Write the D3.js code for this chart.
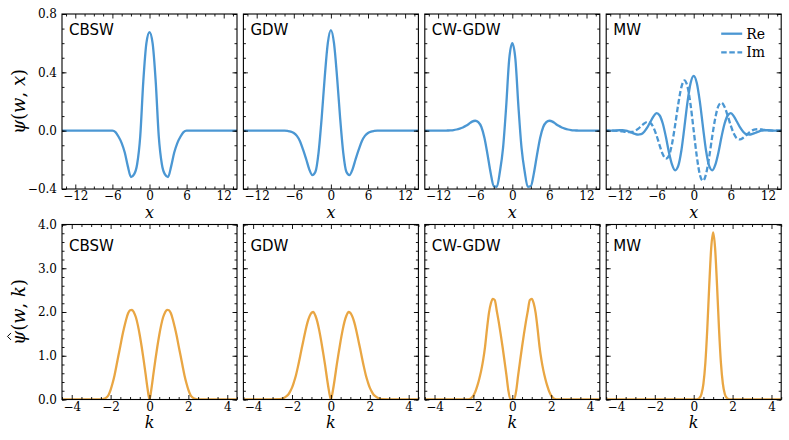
<!DOCTYPE html>
<html>
<head>
<meta charset="utf-8">
<script src="https://cdn.jsdelivr.net/npm/d3@7"></script>
<style>
  body { margin: 0; background: #fff; }
</style>
</head>
<body>
<svg id="chart" width="789" height="440"></svg>
<script>
const panelNames = ["CBSW", "GDW", "CW-GDW", "MW"];

// top row: wavelets in x
const xGrid = [-14.5, -13, -12, -11.5, -11, -10.5, -10, -9.5, -9, -8.5, -8, -7.5, -7, -6.5, -6, -5.5, -5, -4.5, -4, -3.5, -3, -2.5, -2, -1.5, -1, -0.5, 0,
    0.5, 1, 1.5, 2, 2.5, 3, 3.5, 4, 4.5, 5, 5.5, 6, 6.5, 7, 7.5, 8, 8.5, 9, 9.5, 10, 10.5, 11, 11.5, 12, 13, 14.5];
const cbswX = [0, 0, 0, 0, 0, 0, 0, 0, 0, 0, 0, 0, 0, 0, 0, -0.01, -0.042, -0.085, -0.15, -0.245, -0.318, -0.30, -0.23, -0.04, 0.34, 0.60, 0.675,
    0.60, 0.34, -0.04, -0.23, -0.30, -0.318, -0.245, -0.15, -0.085, -0.042, -0.01, 0, 0, 0, 0, 0, 0, 0, 0, 0, 0, 0, 0, 0, 0, 0];
const gdwX = [0, 0, 0, 0, 0, 0, 0, 0, 0, 0, 0, 0, -0.002, -0.006, -0.016, -0.036, -0.072, -0.13, -0.195, -0.265, -0.305, -0.282, -0.152, 0.083, 0.366, 0.60, 0.69,
    0.60, 0.366, 0.083, -0.152, -0.282, -0.305, -0.265, -0.195, -0.13, -0.072, -0.036, -0.016, -0.006, -0.002, 0, 0, 0, 0, 0, 0, 0, 0, 0, 0, 0, 0];
const cwgdwX = [0, 0, 0, 0, 0, 0.001, 0.002, 0.004, 0.008, 0.014, 0.022, 0.033, 0.047, 0.062, 0.068, 0.058, 0.025, -0.05, -0.165, -0.29, -0.38, -0.385, -0.28, -0.12, 0.16, 0.49, 0.60,
    0.49, 0.16, -0.12, -0.28, -0.385, -0.38, -0.29, -0.165, -0.05, 0.025, 0.058, 0.068, 0.062, 0.047, 0.033, 0.022, 0.014, 0.008, 0.004, 0.002, 0.001, 0, 0, 0, 0, 0];
const mwReX = [0, 0, 0.003, 0.003, 0, -0.006, -0.014, -0.022, -0.027, -0.024, -0.007, 0.022, 0.061, 0.098, 0.12, 0.104, 0.049, -0.042, -0.149, -0.233, -0.272, -0.242, -0.138, 0.025, 0.197, 0.327, 0.376,
    0.327, 0.197, 0.025, -0.138, -0.242, -0.272, -0.233, -0.149, -0.042, 0.049, 0.104, 0.12, 0.098, 0.061, 0.022, -0.007, -0.024, -0.027, -0.022, -0.014, -0.006, 0, 0.003, 0.003, 0, 0];
const mwImX = [0, 0, -0.002, -0.005, -0.008, -0.010, -0.009, -0.002, 0.012, 0.031, 0.049, 0.06, 0.053, 0.021, -0.034, -0.102, -0.162, -0.192, -0.17, -0.089, 0.039, 0.182, 0.297, 0.344, 0.302, 0.176, 0,
    -0.176, -0.302, -0.344, -0.297, -0.182, -0.039, 0.089, 0.17, 0.192, 0.162, 0.102, 0.034, -0.021, -0.053, -0.06, -0.049, -0.031, -0.012, 0.002, 0.009, 0.010, 0.008, 0.005, 0.002, 0, 0];

// bottom row: spectra in k
const kGrid = [-4.6, -2.6, -2.5, -2.4, -2.3, -2.2, -2.1, -2, -1.9, -1.8, -1.7, -1.6, -1.5, -1.4, -1.3, -1.2, -1.1, -1, -0.9, -0.8, -0.7, -0.6, -0.5, -0.4, -0.3, -0.2, -0.1, 0,
    0.1, 0.2, 0.3, 0.4, 0.5, 0.6, 0.7, 0.8, 0.9, 1, 1.1, 1.2, 1.3, 1.4, 1.5, 1.6, 1.7, 1.8, 1.9, 2, 2.1, 2.2, 2.3, 2.4, 2.5, 2.6, 4.6];
const cbswK = [0, 0, 0, 0.01, 0.02, 0.05, 0.11, 0.22, 0.37, 0.55, 0.77, 1.0, 1.22, 1.45, 1.65, 1.83, 1.97, 2.04, 2.05, 1.99, 1.88, 1.7, 1.47, 1.2, 0.9, 0.58, 0.25, 0,
    0.25, 0.58, 0.9, 1.2, 1.47, 1.7, 1.88, 1.99, 2.05, 2.04, 1.97, 1.83, 1.65, 1.45, 1.22, 1.0, 0.77, 0.55, 0.37, 0.22, 0.11, 0.05, 0.02, 0.01, 0, 0, 0];
const gdwK = [0, 0.01, 0.02, 0.04, 0.07, 0.11, 0.18, 0.27, 0.40, 0.55, 0.74, 0.95, 1.17, 1.38, 1.59, 1.77, 1.9, 1.98, 2.0, 1.92, 1.78, 1.58, 1.34, 1.07, 0.79, 0.48, 0.2, 0,
    0.2, 0.48, 0.79, 1.07, 1.34, 1.58, 1.78, 1.92, 2.0, 1.98, 1.9, 1.77, 1.59, 1.38, 1.17, 0.95, 0.74, 0.55, 0.40, 0.27, 0.18, 0.11, 0.07, 0.04, 0.02, 0.01, 0];
const cwgdwK = [0, 0, 0, 0, 0, 0.01, 0.04, 0.09, 0.18, 0.31, 0.47, 0.66, 0.9, 1.21, 1.62, 1.98, 2.2, 2.30, 2.27, 2.03, 1.78, 1.5, 1.2, 0.88, 0.55, 0.2, 0.01, 0,
    0.01, 0.2, 0.55, 0.88, 1.2, 1.5, 1.78, 2.03, 2.27, 2.30, 2.2, 1.98, 1.62, 1.21, 0.9, 0.66, 0.47, 0.31, 0.18, 0.09, 0.04, 0.01, 0, 0, 0, 0, 0];
const mwK = [0, 0, 0, 0, 0, 0, 0, 0, 0, 0, 0, 0, 0, 0, 0, 0, 0, 0, 0, 0, 0, 0, 0, 0, 0, 0, 0, 0,
    0.002, 0.009, 0.037, 0.127, 0.36, 0.84, 1.63, 2.61, 3.46, 3.82, 3.46, 2.61, 1.63, 0.84, 0.36, 0.127, 0.037, 0.009, 0.002, 0, 0, 0, 0, 0, 0, 0, 0];

const xTicks = [-12, -6, 0, 6, 12],
    kTicks = [-4, -2, 0, 2, 4],
    psiTicks = [-0.4, 0.0, 0.4, 0.8],
    specTicks = [0, 1, 2, 3, 4];

const topSeries = [[cbswX], [gdwX], [cwgdwX], [mwReX, mwImX]];
const botSeries = [cbswK, gdwK, cwgdwK, mwK];

const BLUE = "#4b97d3", ORANGE = "#e9a643",
    SERIF = '"DejaVu Serif", "Liberation Serif", "Noto Serif", "Times New Roman", serif',
    SANS = '"DejaVu Sans", sans-serif';

const svg = d3.select("#chart"),
    left0 = 62, pw = 175, gap = 6.4, ph = 175,
    rowTop = [14, 224.5];

const x = d3.scaleLinear().domain([-14.15, 14.15]).range([0, pw]),
    k = d3.scaleLinear().domain([-4.5, 4.5]).range([0, pw]),
    yTop = d3.scaleLinear().domain([-0.4, 0.8]).range([ph, 0]),
    yBot = d3.scaleLinear().domain([0, 4]).range([ph, 0]);

function styleAxis(a) {
    a.select(".domain").remove();
    a.selectAll("line").attr("stroke", "#000").attr("stroke-width", 0.9);
    a.attr("font-family", null).attr("font-size", null)
        .style("font-family", SERIF).style("font-size", "12px");
    a.selectAll("text").attr("fill", "#000");
}

function frameAxes(g, xs, ys, xMaj, xMin, yMaj, yMin, showY, yFmt) {
    const sets = [
        [d3.axisBottom(xs).tickValues(xMaj).tickSize(-4.5).tickPadding(2.5).tickFormat(d3.format("d")), `translate(0,${ph})`],
        [d3.axisBottom(xs).tickValues(xMin).tickSize(-2.5).tickFormat(""), `translate(0,${ph})`],
        [d3.axisTop(xs).tickValues(xMaj).tickSize(-4.5).tickFormat(""), null],
        [d3.axisTop(xs).tickValues(xMin).tickSize(-2.5).tickFormat(""), null],
        [d3.axisLeft(ys).tickValues(yMaj).tickSize(-4.5).tickPadding(5).tickFormat(showY ? yFmt : ""), null],
        [d3.axisLeft(ys).tickValues(yMin).tickSize(-2.5).tickFormat(""), null],
        [d3.axisRight(ys).tickValues(yMaj).tickSize(-4.5).tickFormat(""), `translate(${pw},0)`],
        [d3.axisRight(ys).tickValues(yMin).tickSize(-2.5).tickFormat(""), `translate(${pw},0)`]
    ];
    for(const [ax, tr] of sets) {
        const a = g.append("g");
        if(tr) a.attr("transform", tr);
        a.call(ax);
        styleAxis(a);
    }
    g.append("rect")
        .attr("width", pw).attr("height", ph)
        .attr("fill", "none").attr("stroke", "#000").attr("stroke-width", 1.1);
}

const defs = svg.append("defs");
defs.append("clipPath").attr("id", "clip")
    .append("rect").attr("width", pw).attr("height", ph);

const xMinor = d3.range(-13.5, 13.6, 1.5).filter((v) => !xTicks.includes(v)),
    kMinor = d3.range(-4.5, 4.6, 0.5).filter((v) => !kTicks.includes(v)),
    psiMinor = d3.range(-4, 9).map((v) => v / 10),
    specMinor = d3.range(0, 21).map((v) => v / 5);

function mathText(sel, size) {
    return sel.style("font-family", SERIF).style("font-style", "italic").style("font-size", (size || 18) + "px");
}

panelNames.forEach((name, i) => {
    const px = left0 + i * (pw + gap);

    // wavelet panel
    const g1 = svg.append("g").attr("transform", `translate(${px},${rowTop[0]})`);
    const line1 = d3.line().x((d) => x(d[0])).y((d) => yTop(d[1])).curve(d3.curveMonotoneX);
    topSeries[i].forEach((vals, j) => {
        g1.append("path")
            .datum(xGrid.map((v, n) => [v, vals[n]]))
            .attr("clip-path", "url(#clip)")
            .attr("fill", "none")
            .attr("stroke", BLUE)
            .attr("stroke-width", 2.3)
            .attr("stroke-dasharray", j === 1 ? "5.5,2.6" : null)
            .attr("d", line1);
    });
    frameAxes(g1, x, yTop, xTicks, xMinor, psiTicks, psiMinor, i === 0, d3.format(".1f"));
    g1.append("text").attr("x", 7).attr("y", 21)
        .style("font-family", SANS).style("font-size", "15px").text(name);
    mathText(g1.append("text").attr("x", pw / 2).attr("y", ph + 28.5)
        .attr("text-anchor", "middle"), 16).text("x");

    // spectrum panel
    const g2 = svg.append("g").attr("transform", `translate(${px},${rowTop[1]})`);
    const line2 = d3.line().x((d) => k(d[0])).y((d) => yBot(d[1])).curve(d3.curveMonotoneX);
    g2.append("path")
        .datum(kGrid.map((v, n) => [v, botSeries[i][n]]))
        .attr("clip-path", "url(#clip)")
        .attr("fill", "none")
        .attr("stroke", ORANGE)
        .attr("stroke-width", 2.3)
        .attr("d", line2);
    frameAxes(g2, k, yBot, kTicks, kMinor, specTicks, specMinor, i === 0, d3.format(".1f"));
    g2.append("text").attr("x", 7).attr("y", 26)
        .style("font-family", SANS).style("font-size", "15px").text(name);
    mathText(g2.append("text").attr("x", pw / 2).attr("y", ph + 28.5)
        .attr("text-anchor", "middle"), 16).text("k");

    if(name === "MW") {
        const leg = g1.append("g");
        [["Re", null], ["Im", "5.5,2.6"]].forEach(([lab, dash], j) => {
            const ly = 19.7 + j * 18.6;
            leg.append("line").attr("x1", 115).attr("x2", 136).attr("y1", ly).attr("y2", ly)
                .attr("stroke", BLUE).attr("stroke-width", 2.3).attr("stroke-dasharray", dash);
            leg.append("text").attr("x", 140).attr("y", ly + 5)
                .style("font-family", SERIF).style("font-size", "14px").text(lab);
        });
    }
});

// y labels, rotated; the hat over psi is drawn as a small path
function yLabel(cy, parts, hat) {
    const g = svg.append("g").attr("transform", `translate(25,${cy}) rotate(-90)`);
    const t = mathText(g.append("text").attr("text-anchor", "middle"));
    for(const [s, it] of parts) {
        t.append("tspan").style("font-style", it ? "italic" : "normal").text(s);
    }
    if(hat) {
        const box = t.node().getExtentOfChar(0),
            cx = box.x + box.width / 2 + 1.5,
            top = box.y + 2;
        g.append("path")
            .attr("d", `M${cx - 3.5},${top + 1} L${cx},${top - 2.5} L${cx + 3.5},${top + 1}`)
            .attr("fill", "none").attr("stroke", "#000").attr("stroke-width", 1);
    }
}
yLabel(rowTop[0] + ph / 2, [["\u03C8", true], ["(", false], ["w", true], [", ", false], ["x", true], [")", false]], false);
yLabel(rowTop[1] + ph / 2, [["\u03C8", true], ["(", false], ["w", true], [", ", false], ["k", true], [")", false]], true);
</script>
</body>
</html>
